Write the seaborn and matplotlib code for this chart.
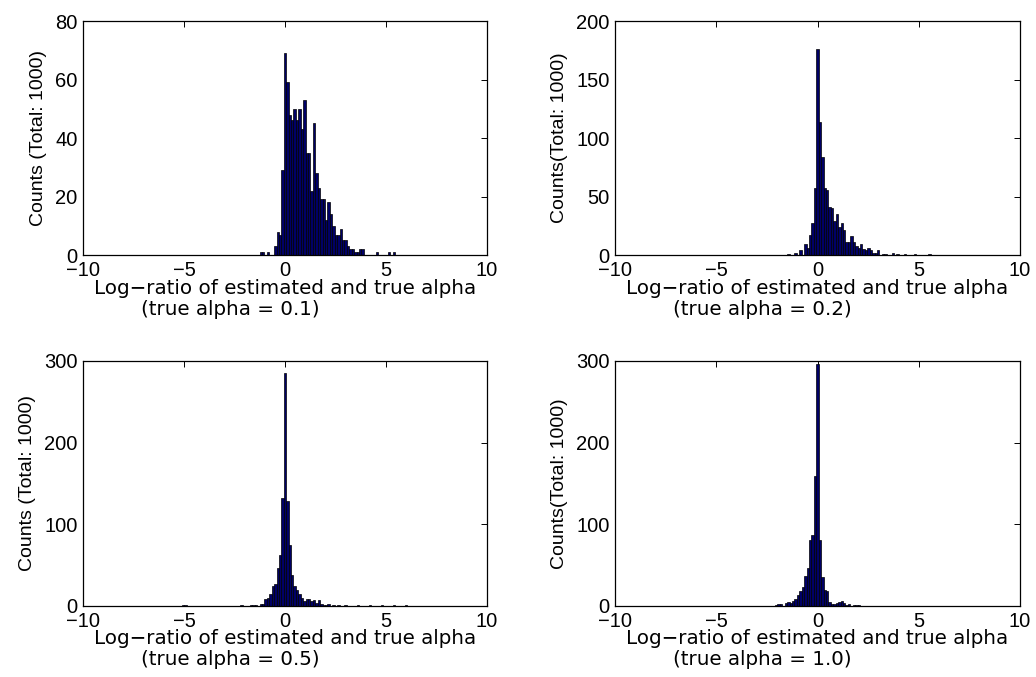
import numpy as np
import pandas as pd
import matplotlib
matplotlib.use('Agg')
import matplotlib.pyplot as plt
import seaborn as sns

# Histogram counts (bin width 0.12, first bin centre given)
bin_width = 0.12

p1_start = -1.20
p1_counts = [1, 1, 0, 1, 0, 0, 3, 8, 7, 29, 69, 59, 48, 46, 50, 46, 50, 43, 53, 35,
             35, 22, 45, 28, 23, 19, 19, 12, 18, 14, 10, 7, 7, 9, 5, 5, 3, 2, 2, 1,
             1, 2, 2, 0, 0, 0, 0, 0, 1, 0, 0, 0, 0, 1, 0, 1]

p2_start = -1.44
p2_counts = [1, 0, 0, 2, 0, 4, 0, 9, 6, 17, 27, 57, 176, 114, 84, 57, 56, 41, 40, 29,
             35, 24, 27, 21, 11, 11, 16, 11, 8, 6, 9, 5, 4, 6, 4, 2, 2, 4, 0, 1,
             1, 0, 0, 2, 0, 1, 0, 0, 1, 0, 0, 0, 1, 0, 0, 0, 0, 0, 1]

p3_start = -5.04
p3_counts = [1, 1, 0, 0, 0, 0, 0, 0, 0, 0, 0, 0, 0, 0, 0, 0, 0, 0, 0, 0,
             0, 0, 0, 0, 1, 0, 0, 0, 1, 1, 1, 0, 3, 2, 9, 10, 15, 24, 27, 46,
             63, 132, 285, 129, 75, 38, 24, 20, 15, 10, 6, 9, 8, 6, 7, 4, 7, 3, 1, 1,
             3, 0, 1, 0, 1, 0, 0, 1, 0, 0, 0, 0, 1, 0, 0, 0, 0, 1, 0, 0,
             0, 0, 1, 0, 0, 0, 0, 1, 0, 0, 0, 0, 1]

p4_start = -2.04
p4_counts = [1, 2, 2, 0, 4, 5, 4, 6, 9, 13, 18, 23, 37, 46, 81, 87, 159, 296, 81, 36,
             20, 18, 5, 2, 3, 4, 5, 6, 4, 1, 2, 0, 1, 1, 1]

ylabels = ['Counts (Total: 1000)', 'Counts(Total: 1000)',
           'Counts (Total: 1000)', 'Counts(Total: 1000)']
alphas = ['0.1', '0.2', '0.5', '1.0']
yticks = [[0, 20, 40, 60, 80], [0, 50, 100, 150, 200],
          [0, 100, 200, 300], [0, 100, 200, 300]]
xticks = [-10, -5, 0, 5, 10]

sns.set_style('white')
plt.rcParams['font.family'] = ['Liberation Sans', 'DejaVu Sans']
plt.rcParams['axes.unicode_minus'] = True
plt.rcParams['text.color'] = 'black'
plt.rcParams['axes.labelcolor'] = 'black'

fig = plt.figure(figsize=(10.36, 6.77), dpi=100)
positions = [[0.0801, 0.6233, 0.390, 0.3456],
             [0.5936, 0.6233, 0.391, 0.3456],
             [0.0801, 0.1049, 0.390, 0.3619],
             [0.5936, 0.1049, 0.391, 0.3619]]

panels = [(p1_start, p1_counts), (p2_start, p2_counts),
          (p3_start, p3_counts), (p4_start, p4_counts)]

for i, (start, counts) in enumerate(panels):
    ax = fig.add_axes(positions[i])
    centers = start + bin_width * np.arange(len(counts))
    df = pd.DataFrame({'center': centers, 'count': counts})
    edges = list(np.append(centers - bin_width / 2, centers[-1] + bin_width / 2))
    sns.histplot(data=df, x='center', weights='count', bins=edges, ax=ax,
                 color='#000066', edgecolor='black', linewidth=0.5, alpha=1)

    ax.set_xlim(-10, 10)
    ax.set_ylim(yticks[i][0], yticks[i][-1])
    ax.set_xticks(xticks)
    ax.set_yticks(yticks[i])
    ax.tick_params(direction='in', length=4, width=0.7, top=True, right=True,
                   labelsize=14.5, colors='black')
    ax.tick_params(axis='x', pad=4.5)
    ax.tick_params(axis='y', pad=4)
    for s in ax.spines.values():
        s.set_linewidth(0.9)
        s.set_color('black')
    ax.set_ylabel(ylabels[i], fontsize=14, labelpad=6, color='black')
    ax.set_xlabel('')

    # two-line x label, second line shifted left as in the original
    ax.annotate('Log\u2212ratio of estimated and true alpha', xy=(0.5, 0),
                xycoords='axes fraction', xytext=(0, -33), textcoords='offset pixels',
                ha='center', va='center', fontsize=14.3, family='DejaVu Sans',
                color='black')
    ax.annotate('(true alpha = ' + alphas[i] + ')', xy=(0.5, 0),
                xycoords='axes fraction', xytext=(-55, -54), textcoords='offset pixels',
                ha='center', va='center', fontsize=14.3, family='DejaVu Sans',
                color='black')

fig.savefig('out.png', dpi=100, facecolor='white')
